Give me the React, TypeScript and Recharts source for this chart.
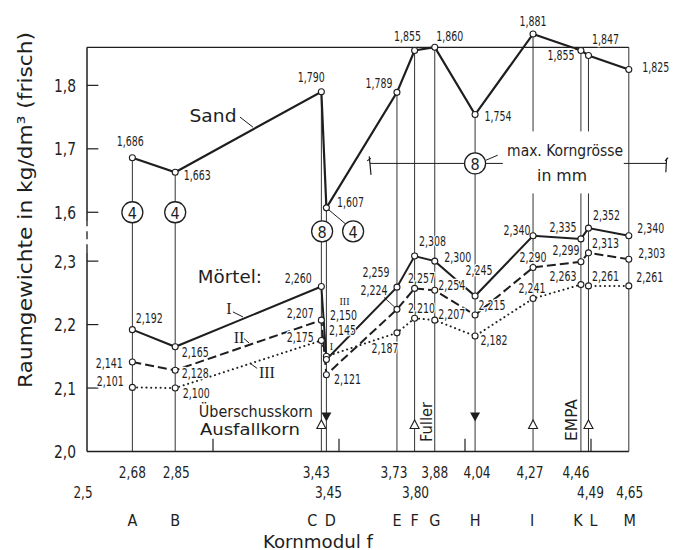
import { LineChart, Line, XAxis, YAxis, ReferenceLine, ReferenceDot } from 'recharts';

const FONT = "'Liberation Sans Narrow', 'DejaVu Sans Condensed', sans-serif";
const SERIF = "'Liberation Serif', 'DejaVu Serif', serif";
const INK = '#1e1e1e';

// Mischungen A ... M und ihr Kornmodul f
const points = ['A', 'B', 'C', 'D', 'E', 'F', 'G', 'H', 'I', 'K', 'L', 'M'];
const kornmodul = [2.68, 2.85, 3.43, 3.45, 3.73, 3.8, 3.88, 4.04, 4.27, 4.46, 4.49, 4.65];

// Raumgewichte in kg/dm3 (frisch)
const sand = [1.686, 1.663, 1.79, 1.607, 1.789, 1.855, 1.86, 1.754, 1.881, 1.855, 1.847, 1.825];
const moertelI = [2.192, 2.165, 2.26, 2.145, 2.259, 2.308, 2.3, 2.245, 2.34, 2.335, 2.352, 2.34];
const moertelII = [2.141, 2.128, 2.207, 2.121, 2.224, 2.257, 2.254, 2.215, 2.29, 2.299, 2.313, 2.303];
const moertelIII = [2.101, 2.1, 2.175, 2.15, 2.187, 2.21, 2.207, 2.182, 2.241, 2.263, 2.261, 2.261];

// Ausfallkorn / Überschusskorn
const ausfallkorn = ['C', 'F', 'I', 'L'];
const ueberschusskorn = ['D', 'H'];

// Achsen
const xTicks = [2.5, ...kornmodul];
const xTickLabels = ['2,5', '2,68', '2,85', '3,43', '3,45', '3,73', '3,80', '3,88', '4,04', '4,27', '4,46', '4,49', '4,65'];
const moertelTicks = [2.0, 2.1, 2.2, 2.3];
const sandTicks = [1.6, 1.7, 1.8];

// the sand scale sits on top of the mortar scale (broken axis)
const OFF = 0.777;
const TOP = 1.86 + OFF;
const yTicks = [...moertelTicks, ...sandTicks.map((s) => s + OFF)];
const yTickLabels = [...moertelTicks, ...sandTicks].map((v) => v.toFixed(1).replace('.', ','));

const data = kornmodul.map((x, i) => ({
  x,
  sand: sand[i] + OFF,
  m1: moertelI[i],
  m2: moertelII[i],
  m3: moertelIII[i],
}));

// label placement (px from the point)
const sandOff = [[-2, -17], [22, 3], [-10, -15], [24, -6], [-18, -9], [-7, -14], [15, -11], [23, 1], [0, -13], [-20, 5], [17, -17], [27, -2]];
const m1Off = [[17, -12], [20, 5], [-23, -9], [16, -29], [-21, -15], [18, -15], [23, -4], [4, -26], [-16, -6], [-18, -12], [18, -13], [22, -8]];
const m2Off = [[-23, 1], [20, 3], [-21, -7], [21, 4], [-23, -19], [7, -10], [17, -5], [17, -10], [0, -10], [-15, -12], [17, -10], [23, -6]];
const m3Off = [[-22, -6], [21, 5], [-21, -3], [17, -41], [-12, 15], [7, -10], [17, -6], [19, 4], [-1, -11], [-18, -9], [17, -10], [21, -9]];

const rowOf = [2, 1, 1, 1, 2, 1, 2, 1, 1, 1, 1, 2, 2];
const numShift = [-4, 0, 1, -5, 2, -3, 1, 0, 2, -3, -5, 2, 1];
const letterShift = [0, 0, 0, -9, 4, 0, 0, 0, 0, -1, -3, 5, 1];

const fmt = (v: number) => v.toFixed(3).replace('.', ',');

const makeDot = (name: string, vals: number[], offs: number[][], leaders: number[] = []) => (p: any) => {
  const { cx, cy, index } = p;
  if (cx == null || cy == null) return <g key={`${name}-${index}`} />;
  const [dx, dy] = offs[index];
  return (
    <g key={`${name}-${index}`}>
      {leaders.includes(index) && (
        <line x1={cx + dx + 10} y1={cy + dy + 7} x2={cx - 2} y2={cy - 2} stroke={INK} strokeWidth={0.9} />
      )}
      <text
        x={cx + dx}
        y={cy + dy}
        textAnchor="middle"
        dominantBaseline="central"
        fontFamily={FONT}
        fontSize={13.5}
        textLength={27}
        lengthAdjust="spacingAndGlyphs"
        fill={INK}
        stroke="#fff"
        strokeWidth={2.5}
        paintOrder="stroke"
      >
        {fmt(vals[index])}
      </text>
      <circle cx={cx} cy={cy} r={3} fill="#fff" stroke={INK} strokeWidth={1.1} />
    </g>
  );
};

const XTick = (p: any) => {
  const i = xTicks.indexOf(p.payload.value);
  if (i < 0) return <g />;
  const letter = i === 0 ? '' : points[i - 1];
  return (
    <g fontFamily={FONT} fill={INK}>
      <text
        x={p.x + numShift[i]}
        y={p.y + (rowOf[i] === 1 ? 20.5 : 40.5)}
        textAnchor="middle"
        dominantBaseline="central"
        fontSize={16}
        textLength={i === 0 ? 19 : 27}
        lengthAdjust="spacingAndGlyphs"
      >
        {xTickLabels[i]}
      </text>
      {letter && (
        <text x={p.x + letterShift[i]} y={p.y + 68.5} textAnchor="middle" dominantBaseline="central" fontSize={16}>
          {letter}
        </text>
      )}
    </g>
  );
};

const YTick = (p: any) => {
  const i = yTicks.findIndex((t) => Math.abs(t - p.payload.value) < 1e-6);
  return (
    <text
      x={p.x}
      y={p.y}
      textAnchor="end"
      dominantBaseline="central"
      fontFamily={FONT}
      fontSize={18}
      textLength={22}
      lengthAdjust="spacingAndGlyphs"
      fill={INK}
    >
      {yTickLabels[i] ?? ''}
    </text>
  );
};

const seg = (key: string, x1: number, y1: number, x2: number, y2: number, extra: any = {}) => (
  <ReferenceLine
    key={key}
    segment={[{ x: x1, y: y1 }, { x: x2, y: y2 }]}
    stroke={INK}
    strokeWidth={1}
    ifOverflow="visible"
    {...extra}
  />
);

const note = (key: string, x: number, y: number, draw: (cx: number, cy: number) => any) => (
  <ReferenceDot key={key} x={x} y={y} r={1} ifOverflow="visible" shape={(p: any) => draw(p.cx, p.cy)} />
);

const txt = (s: string, cx: number, cy: number, size: number, opts: any = {}) => (
  <text
    x={cx}
    y={cy}
    textAnchor={opts.anchor || 'middle'}
    dominantBaseline="central"
    fontFamily={opts.family || FONT}
    fontSize={size}
    fill={INK}
    textLength={opts.len}
    lengthAdjust={opts.len ? 'spacingAndGlyphs' : undefined}
    transform={opts.rotate ? `rotate(-90 ${cx} ${cy})` : undefined}
  >
    {s}
  </text>
);

const circled = (s: string) => (cx: number, cy: number) => (
  <g>
    <circle cx={cx} cy={cy} r={10.5} fill="#fff" stroke={INK} strokeWidth={1.3} />
    {txt(s, cx, cy + 1, 16)}
  </g>
);

const xOf = (p: string) => kornmodul[points.indexOf(p)];

export default function App() {
  return (
    <LineChart
      width={675}
      height={542}
      data={data}
      margin={{ top: 12, right: 3.8, bottom: 8.5, left: 19 }}
    >
      <XAxis
        type="number"
        dataKey="x"
        domain={[2.5, 4.85]}
        ticks={xTicks}
        interval={0}
        axisLine={false}
        tickLine={false}
        tickSize={0}
        tickMargin={0}
        height={90}
        tick={<XTick />}
        label={(p: any) => {
          const vb = p.viewBox || { x: 79, y: 443.5 };
          return txt('Kornmodul f', vb.x + 231, vb.y + 90, 17, { len: 110 });
        }}
      />
      <YAxis
        type="number"
        domain={[2.0, 2.68]}
        ticks={yTicks}
        interval={0}
        axisLine={false}
        tickLine={false}
        tickSize={0}
        tickMargin={11}
        width={60}
        tick={<YTick />}
        label={(p: any) => {
          const vb = p.viewBox || { x: 19, y: 12 };
          return txt('Raumgewichte in kg/dm³ (frisch)', vb.x - 2, vb.y + 190, 20, { rotate: true, len: 356 });
        }}
      />

      {/* vertical lines from the axis up to the sand value */}
      {kornmodul.map((x, i) => seg(`v${i}`, x, 2.0, x, i === kornmodul.length - 1 ? TOP : sand[i] + OFF, { stroke: '#333' }))}

      {note('gap', 4.4, 2.454, (cx, cy) => (
        <rect x={cx - 63} y={cy - 32} width={121} height={62} fill="#fff" />
      ))}

      {/* frame */}
      {seg('bottom', 2.5, 2.0, 4.65, 2.0, { strokeWidth: 1.5 })}
      {seg('top', 2.5, TOP, 4.65, TOP, { strokeWidth: 1.2 })}
      {seg('left1', 2.5, 2.0, 2.5, 2.314, { strokeWidth: 1.5 })}
      {seg('left2', 2.5, 2.314, 2.5, 2.362, { strokeWidth: 1.3, strokeDasharray: '8 5' })}
      {seg('left3', 2.5, 2.362, 2.5, TOP, { strokeWidth: 1.5 })}
      {yTicks.slice(1).map((v, i) => seg(`yt${i}`, 2.5, v, 2.545, v, { strokeWidth: 1.2 }))}
      {[3.0, 3.5, 4.0, 4.5].map((x, i) => seg(`xt${i}`, x, 2.0, x, 2.02, { strokeWidth: 1.2 }))}

      {/* max. Korngrösse */}
      {seg('korn', 3.623, 2.454, 4.8, 2.454)}
      {seg('kornL', 3.62, 2.465, 3.627, 2.436, { strokeWidth: 1.2 })}
      {seg('kornL2', 3.612, 2.458, 3.626, 2.462, { strokeWidth: 1.2 })}
      {seg('kornR', 4.8, 2.462, 4.797, 2.44, { strokeWidth: 1.2 })}
      {seg('kornR2', 4.794, 2.458, 4.806, 2.463, { strokeWidth: 1.2 })}

      <Line
        dataKey="m3"
        type="linear"
        stroke={INK}
        strokeWidth={2}
        strokeDasharray="0.1 4.6"
        strokeLinecap="round"
        dot={makeDot('m3', moertelIII, m3Off)}
        activeDot={false}
        isAnimationActive={false}
      />
      <Line
        dataKey="m2"
        type="linear"
        stroke={INK}
        strokeWidth={2}
        strokeDasharray="9 4"
        dot={makeDot('m2', moertelII, m2Off, [4])}
        activeDot={false}
        isAnimationActive={false}
      />
      <Line
        dataKey="m1"
        type="linear"
        stroke={INK}
        strokeWidth={2}
        dot={makeDot('m1', moertelI, m1Off)}
        activeDot={false}
        isAnimationActive={false}
      />
      <Line
        dataKey="sand"
        type="linear"
        stroke={INK}
        strokeWidth={2.2}
        dot={makeDot('sand', sand, sandOff)}
        activeDot={false}
        isAnimationActive={false}
      />

      {/* max. grain size markers */}
      {seg('lead4', 3.45, 1.607 + OFF, 3.528, 2.358)}
      {seg('lead8', 4.083, 2.459, 4.13, 2.467)}
      {note('c4a', xOf('A'), 1.6 + OFF, circled('4'))}
      {note('c4b', xOf('B'), 1.6 + OFF, circled('4'))}
      {note('c8cd', 3.433, 2.347, circled('8'))}
      {note('c4d', 3.556, 2.347, circled('4'))}
      {note('c8h', xOf('H'), 2.454, circled('8'))}
      {note('tk1', 4.167, 2.475, (cx, cy) => txt('max. Korngrösse', cx, cy, 16, { anchor: 'start', len: 116 }))}
      {note('tk2', 4.385, 2.435, (cx, cy) => txt('in mm', cx, cy, 16, { len: 50 }))}

      {/* series names */}
      {seg('leadSand', 3.107, 2.527, 3.159, 2.511)}
      {note('tSand', 3.0, 2.53, (cx, cy) => txt('Sand', cx, cy, 18, { len: 47 }))}
      {note('tMoertel', 2.94, 2.275, (cx, cy) => txt('Mörtel:', cx, cy, 17, { anchor: 'start', len: 64 }))}
      {seg('leadI', 3.079, 2.22, 3.119, 2.212)}
      {seg('leadII', 3.123, 2.178, 3.143, 2.171)}
      {seg('leadIII', 3.147, 2.139, 3.175, 2.131)}
      {note('tI', 3.063, 2.226, (cx, cy) => txt('I', cx, cy, 16, { family: SERIF }))}
      {note('tII', 3.103, 2.18, (cx, cy) => txt('II', cx, cy, 16, { family: SERIF }))}
      {note('tIII', 3.214, 2.125, (cx, cy) => txt('III', cx, cy, 16, { family: SERIF }))}
      {note('tIIIs', 3.522, 2.237, (cx, cy) => txt('III', cx, cy, 10, { family: SERIF }))}
      {note('tIs', 3.47, 2.166, (cx, cy) => txt('I', cx, cy, 10, { family: SERIF }))}

      {/* Überschusskorn / Ausfallkorn */}
      {note('tUe', 2.944, 2.062, (cx, cy) => txt('Überschusskorn', cx, cy, 15, { anchor: 'start', len: 114 }))}
      {note('tAus', 2.948, 2.034, (cx, cy) => txt('Ausfallkorn', cx, cy, 15, { anchor: 'start', len: 100 }))}
      {ueberschusskorn.map((p) =>
        note(`ue${p}`, xOf(p), 2.0543, (cx, cy) => (
          <polygon points={`${cx - 5},${cy - 4.5} ${cx + 5},${cy - 4.5} ${cx},${cy + 4.5}`} fill={INK} />
        ))
      )}
      {ausfallkorn.map((p) =>
        note(`au${p}`, xOf(p), 2.0425, (cx, cy) => (
          <polygon
            points={`${cx - 4.5},${cy + 4} ${cx + 4.5},${cy + 4} ${cx},${cy - 4.5}`}
            fill="#fff"
            stroke={INK}
            strokeWidth={1.1}
          />
        ))
      )}
      {note('tFuller', 3.849, 2.0465, (cx, cy) => txt('Fuller', cx, cy, 16, { rotate: true, len: 40 }))}
      {note('tEmpa', 4.425, 2.0496, (cx, cy) => txt('EMPA', cx, cy, 15, { rotate: true, len: 42 }))}
    </LineChart>
  );
}
